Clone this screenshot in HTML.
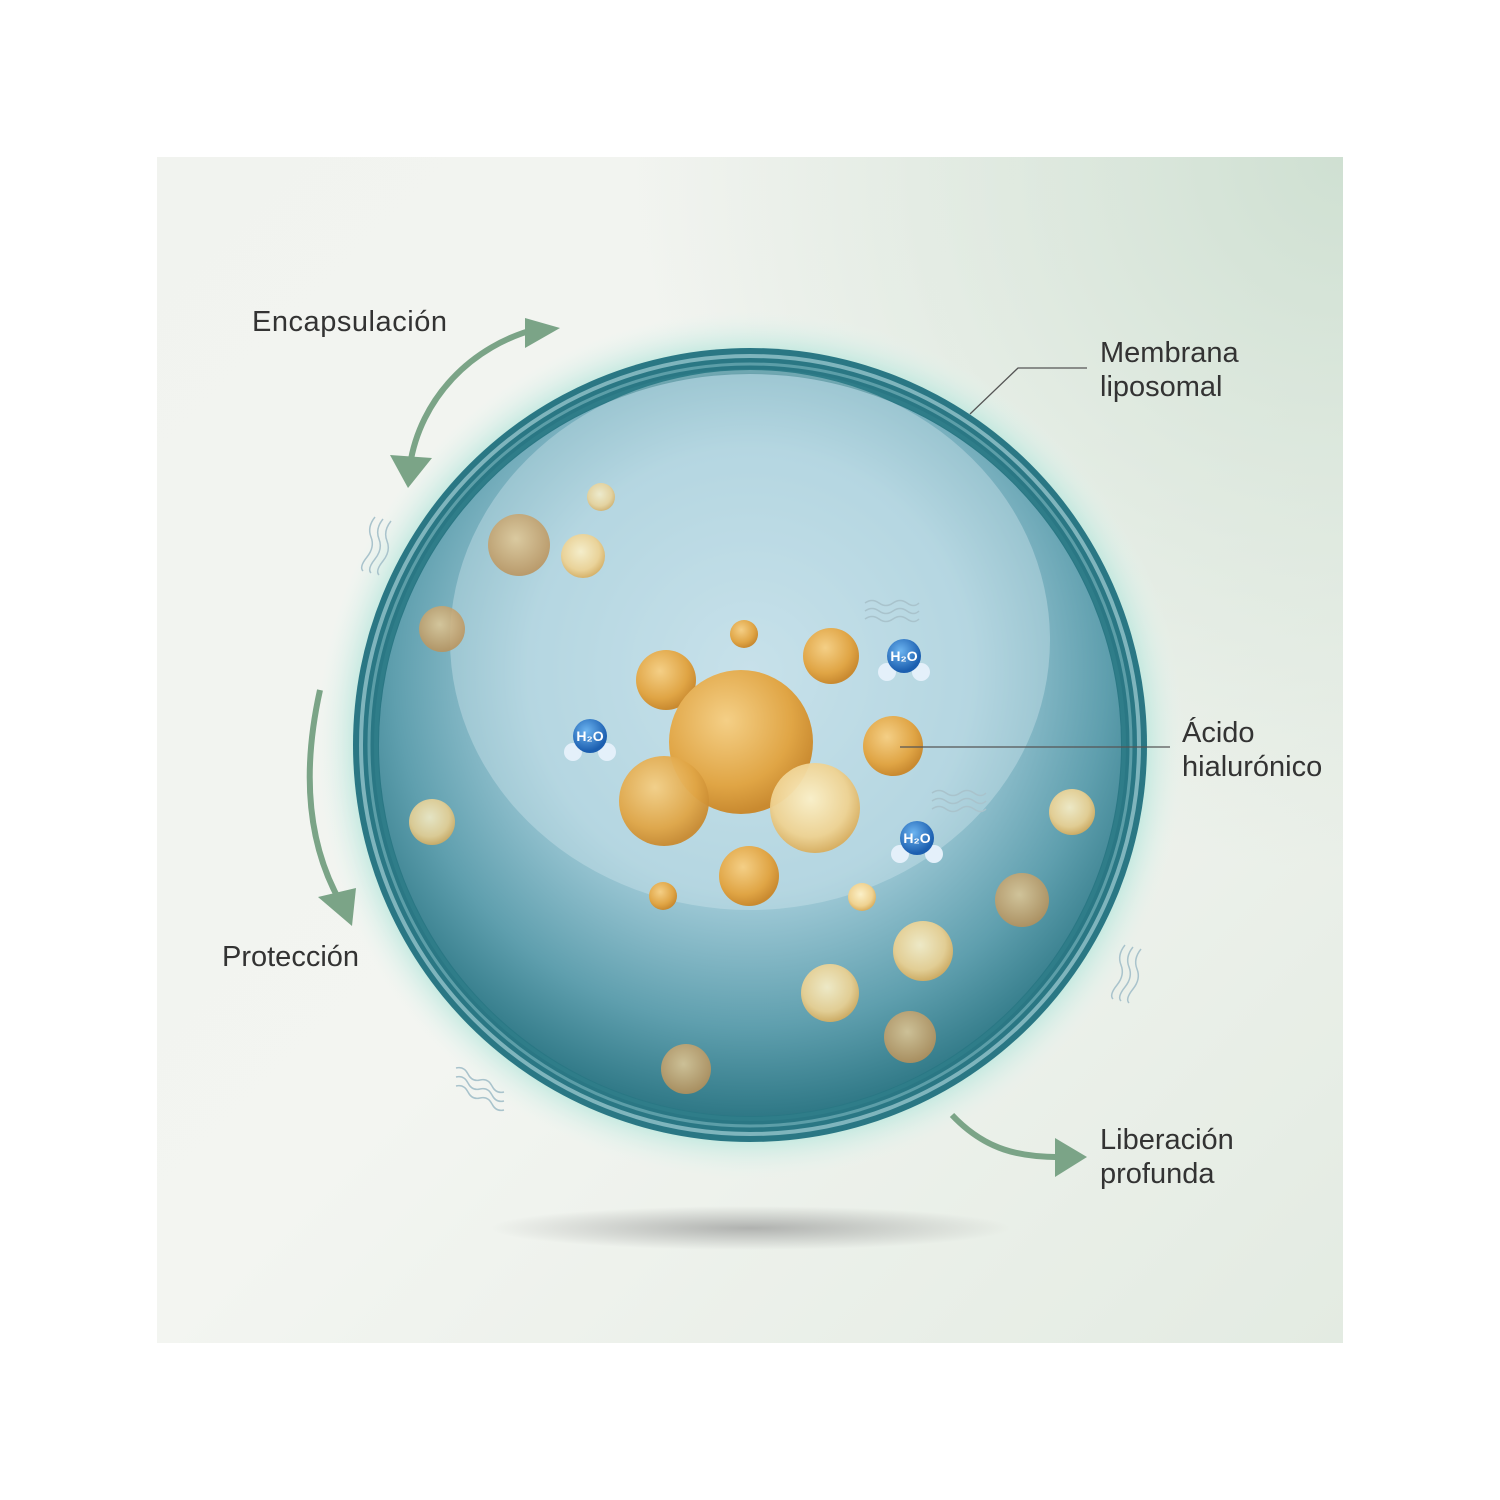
<!DOCTYPE html>
<html><head><meta charset="utf-8"><style>
html,body{margin:0;padding:0;background:#fff;}
svg{display:block}
text{font-family:"Liberation Sans",sans-serif;fill:#333;font-size:29px}
</style></head><body>
<svg width="1500" height="1500" viewBox="0 0 1500 1500">
<defs>
<linearGradient id="bg" x1="0" y1="0" x2="1" y2="1">
<stop offset="0" stop-color="#f1f3ef"/><stop offset="0.5" stop-color="#f3f5f1"/><stop offset="1" stop-color="#e3ebe2"/></linearGradient>
<radialGradient id="bgtr" cx="1" cy="0" r="0.6"><stop offset="0" stop-color="#cfe0d2"/><stop offset="1" stop-color="#cfe0d2" stop-opacity="0"/></radialGradient>
<radialGradient id="inner" cx="0.5" cy="0.4" r="0.6">
<stop offset="0" stop-color="#c2dee8"/><stop offset="0.5" stop-color="#a3ccd9"/><stop offset="0.8" stop-color="#5f9fae"/><stop offset="1" stop-color="#2f7886"/></radialGradient>
<radialGradient id="glow" cx="0.5" cy="0.5" r="0.5">
<stop offset="0.9" stop-color="#b8e6dc" stop-opacity="0.9"/><stop offset="1" stop-color="#e8f4ef" stop-opacity="0"/></radialGradient>
<radialGradient id="gold" cx="0.4" cy="0.35" r="0.65">
<stop offset="0" stop-color="#f4cf86"/><stop offset="0.7" stop-color="#e0a545"/><stop offset="1" stop-color="#c98a30"/></radialGradient>
<radialGradient id="pale" cx="0.45" cy="0.4" r="0.6">
<stop offset="0" stop-color="#fbf0c8"/><stop offset="0.7" stop-color="#efd291"/><stop offset="1" stop-color="#d9ae5e"/></radialGradient>
<radialGradient id="dim" cx="0.45" cy="0.4" r="0.6">
<stop offset="0" stop-color="#e3c996"/><stop offset="1" stop-color="#bb9158"/></radialGradient>
<radialGradient id="shadow" cx="0.5" cy="0.5" r="0.5"><stop offset="0" stop-color="#888" stop-opacity="0.6"/><stop offset="1" stop-color="#888" stop-opacity="0"/></radialGradient>
<radialGradient id="h2o" cx="0.4" cy="0.35" r="0.6"><stop offset="0" stop-color="#6cb4f0"/><stop offset="1" stop-color="#1c5fb0"/></radialGradient>
<marker id="ah" markerWidth="10" markerHeight="10" refX="5" refY="5" orient="auto" markerUnits="userSpaceOnUse" viewBox="0 0 10 10"><path d="M0,0 L10,5 L0,10 Z" fill="#7ba487"/></marker>
</defs>
<rect x="157" y="157" width="1186" height="1186" fill="url(#bg)"/>
<rect x="157" y="157" width="1186" height="1186" fill="url(#bgtr)"/>
<ellipse cx="750" cy="1228" rx="260" ry="22" fill="url(#shadow)"/>
<circle cx="750" cy="745" r="435" fill="url(#glow)"/>
<circle cx="750" cy="745" r="397" fill="#2a7784"/>
<circle cx="750" cy="745" r="389" fill="none" stroke="#7fb5bd" stroke-width="4"/>
<circle cx="750" cy="745" r="381" fill="none" stroke="#5c9ea8" stroke-width="3"/>
<circle cx="750" cy="745" r="374" fill="none" stroke="#2f7d89" stroke-width="4"/>
<circle cx="750" cy="745" r="371" fill="url(#inner)"/>
<ellipse cx="750" cy="640" rx="300" ry="270" fill="#cfe6ee" opacity="0.4"/>
<g>
<circle cx="519" cy="545" r="31" fill="url(#dim)" opacity="0.85"/>
<circle cx="583" cy="556" r="22" fill="url(#pale)" opacity="0.9"/>
<circle cx="601" cy="497" r="14" fill="url(#pale)" opacity="0.8"/>
<circle cx="442" cy="629" r="23" fill="url(#dim)" opacity="0.85"/>
<circle cx="432" cy="822" r="23" fill="url(#pale)" opacity="0.85"/>
<circle cx="744" cy="634" r="14" fill="url(#gold)"/>
<circle cx="831" cy="656" r="28" fill="url(#gold)"/>
<circle cx="666" cy="680" r="30" fill="url(#gold)"/>
<circle cx="893" cy="746" r="30" fill="url(#gold)"/>
<circle cx="741" cy="742" r="72" fill="url(#gold)"/>
<circle cx="664" cy="801" r="45" fill="url(#gold)" opacity="0.95"/>
<circle cx="815" cy="808" r="45" fill="url(#pale)" opacity="0.95"/>
<circle cx="749" cy="876" r="30" fill="url(#gold)"/>
<circle cx="663" cy="896" r="14" fill="url(#gold)"/>
<circle cx="862" cy="897" r="14" fill="url(#pale)"/>
<circle cx="1072" cy="812" r="23" fill="url(#pale)" opacity="0.9"/>
<circle cx="1022" cy="900" r="27" fill="url(#dim)" opacity="0.85"/>
<circle cx="923" cy="951" r="30" fill="url(#pale)" opacity="0.9"/>
<circle cx="830" cy="993" r="29" fill="url(#pale)" opacity="0.9"/>
<circle cx="910" cy="1037" r="26" fill="url(#dim)" opacity="0.85"/>
<circle cx="686" cy="1069" r="25" fill="url(#dim)" opacity="0.85"/>
</g>
<g>
<g transform="translate(590,740)"><circle cx="-17" cy="12" r="9" fill="#e4f0fa"/><circle cx="17" cy="12" r="9" fill="#e4f0fa"/><circle cx="0" cy="-4" r="17" fill="url(#h2o)"/><text x="0" y="1" text-anchor="middle" style="fill:#fff;font-size:14px;font-weight:bold">H₂O</text></g>
<g transform="translate(904,660)"><circle cx="-17" cy="12" r="9" fill="#e4f0fa"/><circle cx="17" cy="12" r="9" fill="#e4f0fa"/><circle cx="0" cy="-4" r="17" fill="url(#h2o)"/><text x="0" y="1" text-anchor="middle" style="fill:#fff;font-size:14px;font-weight:bold">H₂O</text></g>
<g transform="translate(917,842)"><circle cx="-17" cy="12" r="9" fill="#e4f0fa"/><circle cx="17" cy="12" r="9" fill="#e4f0fa"/><circle cx="0" cy="-4" r="17" fill="url(#h2o)"/><text x="0" y="1" text-anchor="middle" style="fill:#fff;font-size:14px;font-weight:bold">H₂O</text></g>
</g>
<g fill="none" stroke="#a9c3cc" stroke-width="1.5">
<path d="M865,603 q7,-5 14,0 t14,0 t14,0 t12,0"/><path d="M865,611 q7,-5 14,0 t14,0 t14,0 t12,0"/><path d="M865,619 q7,-5 14,0 t14,0 t14,0 t12,0"/>
<path d="M932,793 q7,-5 14,0 t14,0 t14,0 t12,0"/><path d="M932,801 q7,-5 14,0 t14,0 t14,0 t12,0"/><path d="M932,809 q7,-5 14,0 t14,0 t14,0 t12,0"/>
<path d="M375,517 q-8,10 -4,20 t-4,20 t-4,14"/><path d="M383,519 q-8,10 -4,20 t-4,20 t-4,14"/><path d="M391,521 q-8,10 -4,20 t-4,20 t-4,14"/>
<path d="M1125,945 q-8,10 -4,20 t-4,20 t-4,14"/><path d="M1133,947 q-8,10 -4,20 t-4,20 t-4,14"/><path d="M1141,949 q-8,10 -4,20 t-4,20 t-4,14"/>
<path d="M456,1068 q8,-2 12,6 t12,6 t12,6 t12,6"/><path d="M456,1077 q8,-2 12,6 t12,6 t12,6 t12,6"/><path d="M456,1086 q8,-2 12,6 t12,6 t12,6 t12,6"/>
</g>
<g fill="none" stroke="#7ba487" stroke-width="6">
<path d="M540,328 C470,345 420,400 410,465"/>
<path d="M320,690 C300,780 310,850 342,905"/>
<path d="M952,1115 C985,1150 1020,1158 1065,1157"/>
</g>
<path d="M525,318 L560,328 L525,348 Z" fill="#7ba487"/>
<path d="M390,455 L432,458 L408,488 Z" fill="#7ba487"/>
<path d="M318,897 L356,888 L352,926 Z" fill="#7ba487"/>
<path d="M1055,1138 L1087,1157 L1055,1177 Z" fill="#7ba487"/>
<g fill="none" stroke="#555" stroke-width="1.3">
<path d="M970,414 L1018,368 L1087,368"/>
<path d="M900,747 L1170,747"/>
</g>
<text x="252" y="331" textLength="195">Encapsulación</text>
<text x="1100" y="362">Membrana</text>
<text x="1100" y="396">liposomal</text>
<text x="1182" y="742">Ácido</text>
<text x="1182" y="776">hialurónico</text>
<text x="222" y="966">Protección</text>
<text x="1100" y="1149">Liberación</text>
<text x="1100" y="1183">profunda</text>
</svg>
</body></html>
